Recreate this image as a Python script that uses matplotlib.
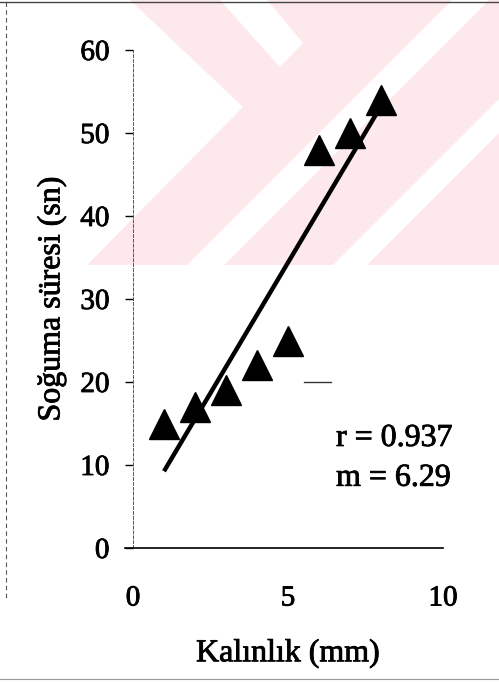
import numpy as np
import matplotlib
matplotlib.use("Agg")
import matplotlib.pyplot as plt
import matplotlib.patheffects as pe
from matplotlib.patches import Polygon

# data
thickness = [1, 2, 3, 4, 5, 6, 7, 8]          # Kalınlık (mm)
cool_time = [15, 17, 19, 22, 25, 48, 50, 54]  # Soğuma süresi (sn)
x_ticks = [0, 5, 10]
y_ticks = [0, 10, 20, 30, 40, 50, 60]
stray_dash_x = [5.5, 6.4]   # small stray dash in the scan
stray_dash_y = [20, 20]

W, H = 499, 682
plt.rcParams["font.family"] = ["Liberation Serif", "DejaVu Serif"]
# scanned text looks a bit heavier than plain Times
ink = [pe.withStroke(linewidth=0.6, foreground="black")]

fig = plt.figure(figsize=(W / 100, H / 100), dpi=100)


def px(pts):
    # pixel coords (from top-left) -> figure fraction
    return [(x / W, 1 - y / H) for x, y in pts]


# faint watermark in the background
pink = "#fde8ec"
fig.patches.append(Polygon(px([(130, 0), (499, 0), (499, 265), (87, 265), (243, 107)]),
                           closed=True, transform=fig.transFigure, fc=pink, ec="none", zorder=-2))
for band in [
    [(220, 0), (267, 0), (303, 43), (280, 67)],
    [(187, 265), (224, 265), (489, 0), (452, 0)],
    [(333, 265), (367, 265), (499, 133), (499, 99)],
]:
    fig.patches.append(Polygon(px(band), closed=True, transform=fig.transFigure,
                               fc="white", ec="none", zorder=-1))

# scan frame edges
fig.add_artist(plt.Line2D([0, 1], [1 - 2 / H, 1 - 2 / H], transform=fig.transFigure,
                          color="#444444", lw=1.0))
fig.add_artist(plt.Line2D([6 / W, 6 / W], [1 - 2 / H, 1 - 600 / H], transform=fig.transFigure,
                          color="#555555", lw=0.8, linestyle=(0, (4, 3))))
fig.add_artist(plt.Line2D([0, 1], [1 - 679 / H, 1 - 679 / H], transform=fig.transFigure,
                          color="#999999", lw=0.8))

ax = fig.add_axes([133 / W, 134 / H, 310 / W, 498 / H])
ax.patch.set_alpha(0)

x = np.array(thickness)
y = np.array(cool_time)
m, b = np.polyfit(x, y, 1)
r = np.corrcoef(x, y)[0, 1]

ax.plot([x.min(), x.max()], [m * x.min() + b, m * x.max() + b], color="black", lw=3.2,
        solid_capstyle="butt", zorder=3)
ax.plot(x, y, linestyle="none", marker="^", ms=21, color="black", zorder=4)
ax.plot(stray_dash_x, stray_dash_y, color="#333333", lw=1.0)

ax.text(6.55, 13.2, "r = %.3f" % r, fontsize=23, va="center", ha="left", path_effects=ink)
ax.text(6.55, 8.4, "m = %.2f" % m, fontsize=23, va="center", ha="left", path_effects=ink)

ax.set_xlim(0, 10)
ax.set_ylim(0, 60)
ax.set_xticks(x_ticks)
ax.set_yticks(y_ticks)
ax.tick_params(axis="y", direction="out", length=6, width=1.0, pad=11, labelsize=21)
ax.tick_params(axis="x", length=0, pad=27, labelsize=21)
for lab in ax.get_xticklabels() + ax.get_yticklabels():
    lab.set_path_effects(ink)

for s in ["top", "right"]:
    ax.spines[s].set_visible(False)
ax.spines["left"].set_linestyle((0, (3, 2)))
ax.spines["left"].set_linewidth(0.7)
ax.spines["left"].set_color("#555555")
ax.spines["bottom"].set_linewidth(1.2)
ax.spines["bottom"].set_bounds(-0.25, 10)

ax.set_ylabel("Soğuma süresi (sn)", fontsize=23, labelpad=10, path_effects=ink)
ax.set_xlabel("Kalınlık (mm)", fontsize=23, labelpad=20, path_effects=ink)

fig.savefig("out.png", dpi=100)
